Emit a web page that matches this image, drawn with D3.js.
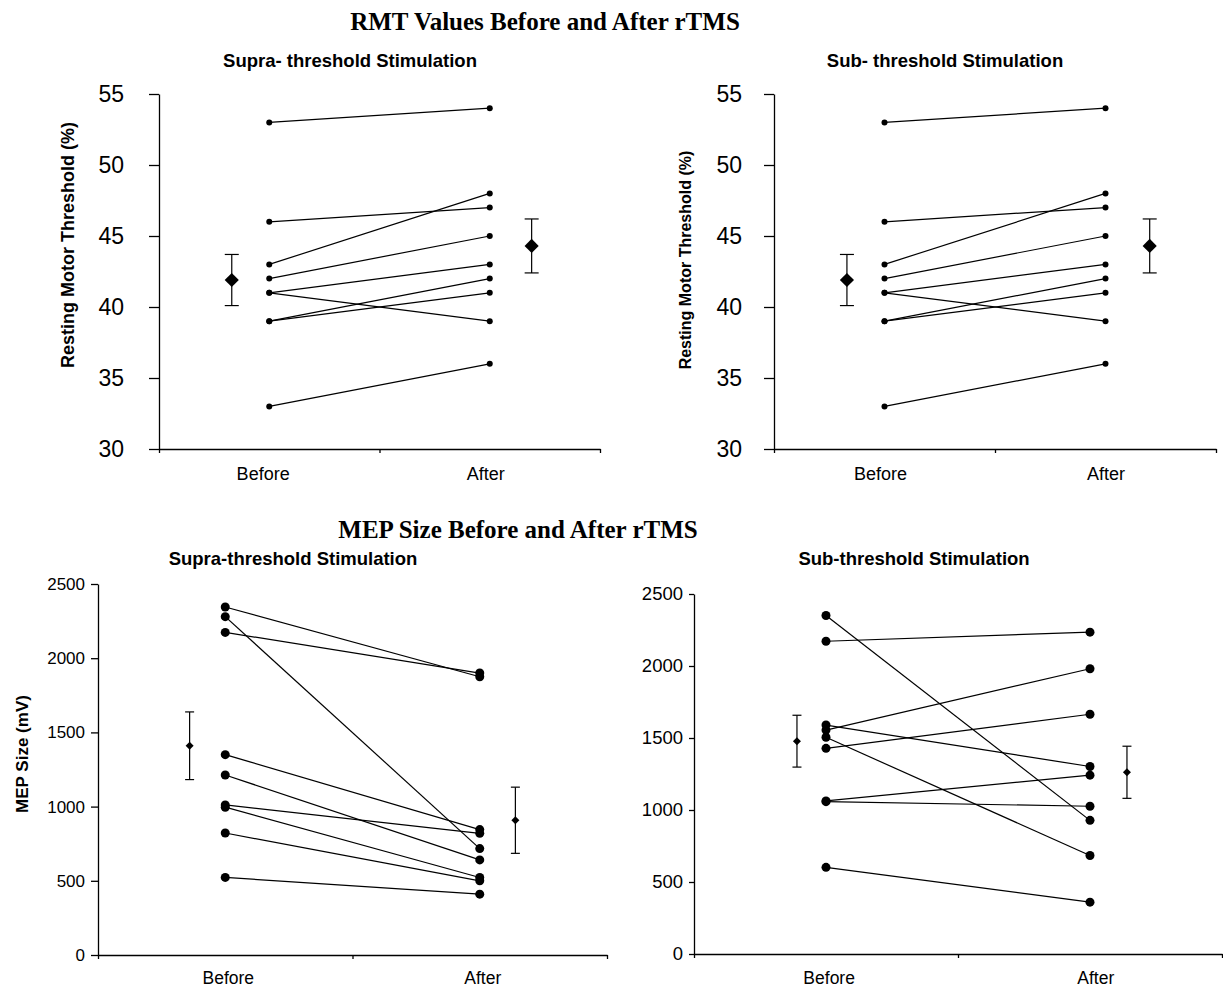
<!DOCTYPE html>
<html>
<head>
<meta charset="utf-8">
<script src="https://cdnjs.cloudflare.com/ajax/libs/d3/7.8.5/d3.min.js"></script>
<style>
  body { margin: 0; background: #fff; }
  text { fill: #000; }
</style>
</head>
<body>
<script>
// data
var categories = ["Before", "After"];

var rmtSupraBefore = [53, 46, 43, 42, 41, 41, 39, 39, 33];
var rmtSupraAfter  = [54, 47, 48, 45, 43, 39, 42, 41, 36];
var rmtSupraMean = [41.9, 44.3];
var rmtSupraErr  = [1.8, 1.9];

var rmtSubBefore = [53, 46, 43, 42, 41, 41, 39, 39, 33];
var rmtSubAfter  = [54, 47, 48, 45, 43, 39, 42, 41, 36];
var rmtSubMean = [41.9, 44.3];
var rmtSubErr  = [1.8, 1.9];

var mepSupraBefore = [2345, 2174, 2280, 1350, 1011, 1213, 996, 822, 523];
var mepSupraAfter  = [1875, 1900, 717, 845, 820, 641, 522, 500, 410];
var mepSupraMean = [1410, 908];
var mepSupraErr  = [228, 223];

var mepSubBefore = [2351, 2172, 1590, 1555, 1505, 1428, 1063, 1058, 602];
var mepSubAfter  = [928, 2235, 1302, 1981, 684, 1665, 1242, 1026, 360];
var mepSubMean = [1478, 1262];
var mepSubErr  = [180, 181];

var rmtTicks = [30, 35, 40, 45, 50, 55];
var mepTicks = [0, 500, 1000, 1500, 2000, 2500];

var svg = d3.select("body").append("svg")
    .attr("width", 1223)
    .attr("height", 989);

var sans = "'Liberation Sans', Arial, sans-serif";
var serif = "'Liberation Serif', 'Times New Roman', serif";

// main titles
svg.append("text")
    .attr("x", 545).attr("y", 30)
    .attr("text-anchor", "middle")
    .style("font-family", serif).style("font-weight", "bold").style("font-size", "25px")
    .text("RMT Values Before and After rTMS");

svg.append("text")
    .attr("x", 518).attr("y", 538)
    .attr("text-anchor", "middle")
    .style("font-family", serif).style("font-weight", "bold").style("font-size", "25px")
    .text("MEP Size Before and After rTMS");

function drawPanel(p) {
    var x = d3.scaleLinear().domain([0, 2]).range([p.x0, p.x1]);
    var y = d3.scaleLinear().domain(p.domain).range([p.y1, p.y0]);

    var g = svg.append("g");

    // subtitle
    g.append("text")
        .attr("x", p.subX).attr("y", p.subY)
        .attr("text-anchor", "middle")
        .style("font-family", sans).style("font-weight", "bold").style("font-size", p.subFont + "px")
        .text(p.subtitle);

    // y label
    if (p.yLabel) {
        g.append("text")
            .attr("transform", "translate(" + p.yLabX + "," + p.yLabY + ") rotate(-90)")
            .attr("text-anchor", "middle")
            .attr("dy", "0.35em")
            .style("font-family", sans).style("font-weight", "bold").style("font-size", p.yLabFont + "px")
            .text(p.yLabel);
    }

    // y axis
    var yAxis = g.append("g")
        .attr("transform", "translate(" + p.x0 + ",0)")
        .call(d3.axisLeft(y).tickValues(p.ticks).tickSize(p.tickLen).tickSizeOuter(0)
            .tickPadding(p.tickPad).tickFormat(d3.format("d")));
    yAxis.selectAll("text")
        .style("font-family", sans).style("font-size", p.tickFont + "px");
    yAxis.selectAll("line, path").attr("stroke", "#000").attr("stroke-width", 1.3);

    // x axis: boundary ticks
    var xAxis = g.append("g")
        .attr("transform", "translate(0," + p.y1 + ")")
        .call(d3.axisBottom(x).tickValues([0, 1, 2]).tickSize(4).tickSizeOuter(0).tickFormat(""));
    xAxis.selectAll("line, path").attr("stroke", "#000").attr("stroke-width", 1.3);

    // x axis: category labels
    var catAxis = g.append("g")
        .attr("transform", "translate(0," + p.y1 + ")")
        .call(d3.axisBottom(x).tickValues(p.catX).tickSize(0)
            .tickPadding(p.catBase - 0.71 * p.catFont)
            .tickFormat(function(d) { return categories[Math.floor(d)]; }));
    catAxis.select(".domain").remove();
    catAxis.selectAll("text")
        .style("font-family", sans).style("font-size", p.catFont + "px");

    // paired lines
    var pairs = p.before.map(function(b, i) { return [b, p.after[i]]; });
    g.selectAll(".pair").data(pairs).enter().append("line")
        .attr("class", "pair")
        .attr("x1", x(0.5)).attr("x2", x(1.5))
        .attr("y1", function(d) { return y(d[0]); })
        .attr("y2", function(d) { return y(d[1]); })
        .attr("stroke", "#000").attr("stroke-width", 1.2);

    var dots = [];
    pairs.forEach(function(d) { dots.push([0.5, d[0]]); dots.push([1.5, d[1]]); });
    g.selectAll(".dot").data(dots).enter().append("circle")
        .attr("class", "dot")
        .attr("cx", function(d) { return x(d[0]); })
        .attr("cy", function(d) { return y(d[1]); })
        .attr("r", p.dotR)
        .attr("fill", "#000");

    // means with error bars
    var means = p.mean.map(function(m, i) { return { x: p.meanX[i], m: m, e: p.err[i] }; });
    var eb = g.selectAll(".err").data(means).enter().append("g");
    eb.append("line")
        .attr("x1", function(d) { return x(d.x); }).attr("x2", function(d) { return x(d.x); })
        .attr("y1", function(d) { return y(d.m - d.e); }).attr("y2", function(d) { return y(d.m + d.e); })
        .attr("stroke", "#000").attr("stroke-width", 1.2);
    [-1, 1].forEach(function(s) {
        eb.append("line")
            .attr("x1", function(d) { return x(d.x) - p.cap; }).attr("x2", function(d) { return x(d.x) + p.cap; })
            .attr("y1", function(d) { return y(d.m + s * d.e); }).attr("y2", function(d) { return y(d.m + s * d.e); })
            .attr("stroke", "#000").attr("stroke-width", 1.2);
    });
    eb.append("path")
        .attr("d", d3.symbol(d3.symbolSquare, p.diamond))
        .attr("transform", function(d) { return "translate(" + x(d.x) + "," + y(d.m) + ") rotate(45)"; })
        .attr("fill", "#000");
}

drawPanel({
    x0: 159, x1: 600, y0: 94, y1: 449, domain: [30, 55], ticks: rmtTicks,
    tickLen: 10, tickPad: 25, tickFont: 23,
    subtitle: "Supra- threshold Stimulation", subX: 350, subY: 67, subFont: 18.5,
    yLabel: "Resting Motor Threshold (%)", yLabX: 68, yLabY: 245, yLabFont: 18,
    catFont: 18, catBase: 31, catX: [0.47, 1.48],
    before: rmtSupraBefore, after: rmtSupraAfter, mean: rmtSupraMean, err: rmtSupraErr,
    meanX: [0.33, 1.69], dotR: 3, cap: 7, diamond: 100
});

drawPanel({
    x0: 774, x1: 1216, y0: 94, y1: 449, domain: [30, 55], ticks: rmtTicks,
    tickLen: 10, tickPad: 22, tickFont: 23,
    subtitle: "Sub- threshold Stimulation", subX: 945, subY: 67, subFont: 18.5,
    yLabel: "Resting Motor Threshold (%)", yLabX: 685, yLabY: 260, yLabFont: 16,
    catFont: 18, catBase: 31, catX: [0.48, 1.5],
    before: rmtSubBefore, after: rmtSubAfter, mean: rmtSubMean, err: rmtSubErr,
    meanX: [0.33, 1.70], dotR: 3, cap: 7, diamond: 100
});

drawPanel({
    x0: 98, x1: 607, y0: 584, y1: 955, domain: [0, 2500], ticks: mepTicks,
    tickLen: 7, tickPad: 6, tickFont: 17,
    subtitle: "Supra-threshold Stimulation", subX: 293, subY: 565, subFont: 18.5,
    yLabel: "MEP Size (mV)", yLabX: 22, yLabY: 754, yLabFont: 17,
    catFont: 17.5, catBase: 29, catX: [0.51, 1.51],
    before: mepSupraBefore, after: mepSupraAfter, mean: mepSupraMean, err: mepSupraErr,
    meanX: [0.36, 1.64], dotR: 4.5, cap: 4.5, diamond: 32
});

drawPanel({
    x0: 694, x1: 1222, y0: 594, y1: 954, domain: [0, 2500], ticks: mepTicks,
    tickLen: 5, tickPad: 6, tickFont: 18.5,
    subtitle: "Sub-threshold Stimulation", subX: 914, subY: 565, subFont: 18.5,
    yLabel: null,
    catFont: 17.5, catBase: 30, catX: [0.51, 1.52],
    before: mepSubBefore, after: mepSubAfter, mean: mepSubMean, err: mepSubErr,
    meanX: [0.39, 1.64], dotR: 4.5, cap: 4.5, diamond: 32
});
</script>
</body>
</html>
